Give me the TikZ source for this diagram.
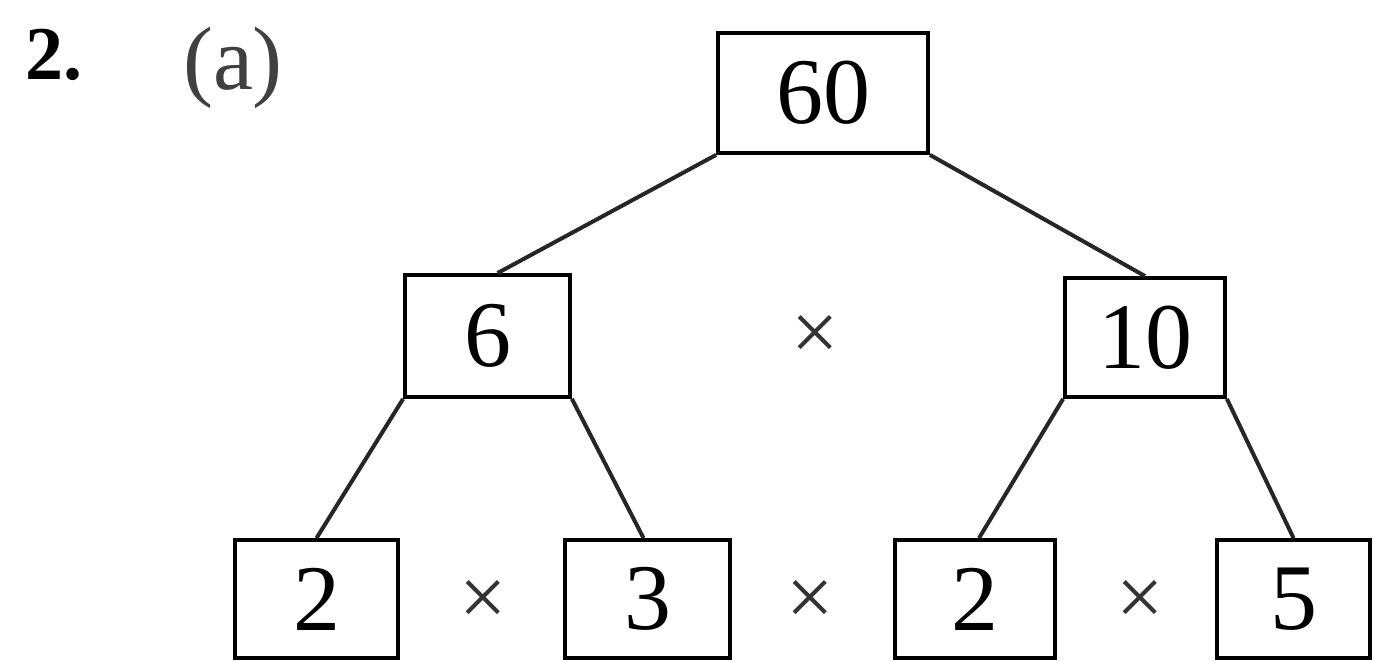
\documentclass[tikz,border=0pt]{standalone}
\usepackage{fontspec}
\setmainfont{Liberation Serif}
\begin{document}
\begin{tikzpicture}[x=0.5pt,y=-0.5pt,
  numbox/.style={draw=black, line width=1.9pt, inner sep=0pt, font=\fontsize{47}{50}\selectfont},
  edge/.style={line width=2pt, draw=black!85},
  times/.style={inner sep=0pt, font=\fontsize{42}{46}\selectfont, text=black!80}]
\useasboundingbox (0,0) rectangle (1374,662);
\fill[white] (0,0) rectangle (1374,662);
\node[anchor=center, inner sep=0pt, font=\bfseries\fontsize{38}{42}\selectfont] (lab) at (54,55) {2.};
\node[anchor=center, inner sep=0pt, font=\fontsize{45}{48}\selectfont, text=black!75] (sub) at (233,68) {(a)};
\node[numbox, minimum width=105pt, minimum height=60pt] (n60) at (823,93) {60};
\node[numbox, minimum width=82.5pt, minimum height=61pt] (n6) at (487.5,336) {6};
\node[numbox, minimum width=80pt, minimum height=59.5pt] (n10) at (1145,337.5) {10};
\node[numbox, minimum width=81.5pt, minimum height=59pt] (a2) at (316.5,599) {2};
\node[numbox, minimum width=82.5pt, minimum height=59pt] (a3) at (647.5,599) {3};
\node[numbox, minimum width=80pt, minimum height=59pt] (b2) at (975,599) {2};
\node[numbox, minimum width=76.5pt, minimum height=59pt] (b5) at (1293.5,599) {5};
\node[times] (x0) at (815,338) {×};
\node[times] (x1) at (483,603) {×};
\node[times] (x2) at (810,603) {×};
\node[times] (x3) at (1140,603) {×};
\draw[edge] (n60.south west) -- ([xshift=5pt]n6.north);
\draw[edge] (n60.south east) -- (n10.north);
\draw[edge] (n6.south west) -- (a2.north);
\draw[edge] (n6.south east) -- ([xshift=-2pt]a3.north);
\draw[edge] (n10.south west) -- ([xshift=2pt]b2.north);
\draw[edge] (n10.south east) -- (b5.north);
\end{tikzpicture}
\end{document}
